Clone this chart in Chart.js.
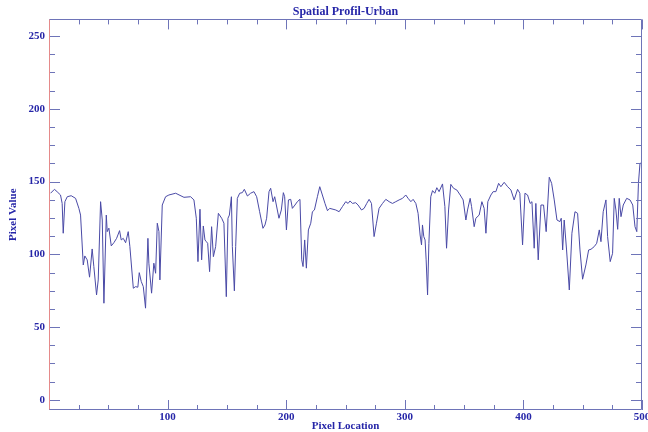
<!DOCTYPE html>
<html>
<head>
<meta charset="utf-8">
<script src="https://cdn.jsdelivr.net/npm/chart.js@4"></script>
<style>
    html, body { margin: 0; padding: 0; background: #fff; }
</style>
</head>
<body>
<canvas id="myChart" width="648" height="432"></canvas>
<script>
// profile: location along the line, value at that point
const pixelLocation = [
    1.3, 4.6, 6.9, 9.7, 11.1, 12, 13.4, 15.4, 18.7, 22.4, 25.2, 26.6, 28.9, 30.2, 32.2, 34.2,
    36.4, 37.8, 40.1, 41.5, 43.5, 44.9, 46.3, 48.3, 49.1, 50.5, 52.5, 54.7, 57, 59.5, 60.9, 62.6,
    64.6, 66.8, 68.2, 71.1, 73, 74.9, 76.1, 77.8, 79.5, 81.4, 83.4, 84.2, 86.5, 88.4, 89.9, 91.3,
    92.7, 93.5, 95.5, 98.3, 101.1, 106.8, 113.8, 119.4, 122.2, 124.2, 125.6, 127.3, 128.7, 130.1,
    131.5, 132.7, 133.8, 135.4, 137.1, 138.6, 140.5, 142.8, 145.6, 147.5, 149.5, 150.9, 152.1, 153.8,
    154.6, 156.3, 157.4, 158.8, 160.8, 163, 164.7, 167.3, 170, 172.8, 175.1, 177.6, 180.4, 182.1,
    183.5, 185.5, 186.9, 188.9, 190.3, 191.7, 193.9, 195.9, 197.6, 198.7, 200.2, 201.9, 203.8, 205.2,
    207.4, 209.4, 211.6, 213.1, 214.2, 215.6, 217, 218.7, 220.7, 222.1, 223.8, 226.3, 228.3, 230.5,
    232.7, 234.8, 236.7, 241.8, 244.6, 247.4, 250.2, 252.2, 253.8, 255.9, 258.6, 260.6, 263.5, 265.7,
    267.9, 269.9, 271.9, 274.1, 276.1, 278.3, 281.2, 284, 286.8, 289.6, 292.4, 295.2, 298.1, 300.8,
    302.8, 305.1, 307, 309.3, 311.2, 312.9, 314.1, 314.9, 316, 317.1, 318, 319.2, 320.3, 321.9,
    323.4, 325.3, 327, 328.9, 331.8, 333.8, 335.2, 336.9, 338.8, 341.1, 343.9, 346.7, 349.2, 351.5,
    352.9, 355.1, 356.3, 358.5, 359.9, 362.7, 365, 366.9, 368.4, 370, 372.6, 374.5, 376.8, 379.1,
    381, 383.8, 386.7, 389.5, 392.2, 395.1, 397, 399.3, 401.3, 403.5, 405.7, 407.2, 409.1, 410.5,
    412.5, 414.8, 417, 419.2, 421.8, 423.8, 426, 428.3, 430.8, 431.9, 433.1, 434.4, 436.4, 438.7,
    440.9, 443.5, 445.7, 447.7, 449.9, 452.7, 455, 457, 459.7, 461.8, 464, 465.4, 467.3, 469.6,
    471, 473.2, 475.2, 476.6, 478, 479.5, 480.8, 482.3, 484.2, 487.1, 489.9, 492.2, 494.1, 495.6,
    497, 498.3, 499.7, 500
];
const pixelValue = [
    142, 144.7, 143, 140.8, 135, 114.5, 136.2, 139.6, 140.3, 138.5, 131.6, 127, 92.7, 98.9, 96.2, 84.3,
    103.7, 91.6, 72.1, 82.4, 136.2, 123.6, 66.4, 127, 115.6, 118, 105.8, 108, 111, 116.3, 109.9, 111,
    108, 115.6, 105.3, 76.7, 77.8, 77.4, 87.4, 81.3, 77.8, 63, 111, 93.9, 73.3, 93.9, 87, 121.4,
    115.6, 82.4, 133.9, 139.6, 140.8, 142, 139.2, 139.6, 137.4, 124.8, 95, 131, 96.2, 119.5,
    109.9, 108.7, 107.6, 88.1, 119, 98.4, 105.3, 128.2, 124.8, 121.4, 70.9, 124.8, 127, 139.6,
    105.3, 74.9, 105.3, 138.5, 142, 142.4, 144.7, 140.1, 142, 143.1, 139.6, 129.3, 117.9, 120.2,
    124.8, 143.1, 145.4, 136.2, 139.6, 133.9, 124.8, 130.5, 142.4, 139.6, 116.8, 137.4, 137.8, 131.6,
    133.9, 136.2, 137.8, 96.2, 91.6, 109.9, 90.5, 116.8, 121.4, 129.3, 130.5, 139.6, 146.5, 140.8,
    135, 130, 131.6, 130.5, 129.3, 132.8, 136.2, 135, 136.7, 135, 135.5, 133.9, 130.5, 131.6,
    135, 137.8, 135, 112.2, 121.4, 131.6, 135, 137.8, 136.2, 135, 136.2, 137.4, 138.5, 140.8,
    138.5, 136.2, 137.8, 135, 128.2, 113.3, 106.5, 120.2, 112.2, 109.9, 96.2, 72.1, 107.6, 139.6,
    143.8, 142, 145.8, 143.1, 148.4, 132.8, 104.2, 130.5, 148.1, 145.4, 144.2, 140.8, 137.4, 123.6,
    130.5, 138.5, 132.8, 119, 124.8, 127, 136.2, 131.6, 114.5, 136.2, 140.8, 143.1, 143.1, 148.8,
    146.5, 149.5, 146.5, 144.2, 137.4, 144.7, 142, 106.5, 142, 140.8, 135, 136.2, 104.2, 135,
    96.2, 133.9, 133.9, 115.6, 153, 148.8, 137.4, 123.6, 122.5, 124.8, 103, 123.6, 103, 75.5,
    114.5, 129.3, 128.2, 103, 82.9, 92.7, 103, 103.5, 105.3, 107.6, 116.8, 108.7, 129.3, 137.4,
    112.2, 95, 100.7, 138.5, 130.5, 117.2, 138.5, 125.9, 133.9, 138.5, 137.4, 133.9, 119, 115.6,
    148.8, 162.6, 162.6, 149
];
const xTicks = [100, 200, 300, 400, 500];
const yTicks = [0, 50, 100, 150, 200, 250];
const xMinorStep = 25;
const yMinorStep = 12.5;

const textColor = '#2626a8';
const lineColor = '#4a4aa6';
const frameColor = '#6e74b8';
const serif = "'Liberation Serif', 'DejaVu Serif', serif";

// IDL-like box with inward ticks on all four sides
const idlFrame = {
    id: 'idlFrame',
    afterDraw(chart) {
        const ctx = chart.ctx
        const a = chart.chartArea
        const x = chart.scales.x
        const y = chart.scales.y
        ctx.save()
        ctx.lineWidth = 1
        ctx.strokeStyle = frameColor
        ctx.beginPath()
        for (let v = 0; v <= 500; v += xMinorStep) {
            const px = Math.round(x.getPixelForValue(v)) + 0.5
            const len = xTicks.includes(v) ? 10 : 5
            ctx.moveTo(px, a.bottom)
            ctx.lineTo(px, a.bottom - len)
            ctx.moveTo(px, a.top)
            ctx.lineTo(px, a.top + len)
        }
        for (let v = 0; v <= 250; v += yMinorStep) {
            const py = Math.round(y.getPixelForValue(v)) + 0.5
            const len = yTicks.includes(v) ? 11 : 6
            ctx.moveTo(a.left, py)
            ctx.lineTo(a.left + len, py)
            ctx.moveTo(a.right, py)
            ctx.lineTo(a.right - len, py)
        }
        ctx.stroke()
        const l = Math.round(a.left) + 0.5
        const r = Math.round(a.right) - 0.5
        const t = Math.round(a.top) + 0.5
        const b = Math.round(a.bottom) - 0.5
        ctx.beginPath()
        ctx.moveTo(l, t)
        ctx.lineTo(r, t)
        ctx.lineTo(r, b)
        ctx.lineTo(l, b)
        ctx.stroke()
        ctx.strokeStyle = '#e58a8a'
        ctx.beginPath()
        ctx.moveTo(l, t)
        ctx.lineTo(l, b)
        ctx.stroke()
        ctx.restore()
    }
};

const labelFont = { family: serif, size: 11, weight: 'bold' };

let profileChart = new Chart("myChart", {
    type: "line",
    data: {
        datasets: [{
            data: pixelLocation.map((v, i) => ({ x: v, y: pixelValue[i] })),
            borderColor: lineColor,
            borderWidth: 1,
            pointRadius: 0,
            tension: 0,
            fill: false
        }]
    },
    options: {
        responsive: false,
        animation: false,
        devicePixelRatio: 1,
        layout: { padding: { left: 0, right: 6, top: 0, bottom: 0 } },
        plugins: {
            legend: { display: false },
            tooltip: { enabled: false },
            title: {
                display: true,
                fullSize: false,
                text: "Spatial Profil-Urban",
                color: textColor,
                font: { family: serif, size: 12, weight: 'bold' },
                padding: { top: 5, bottom: 0 }
            }
        },
        scales: {
            x: {
                type: 'linear',
                min: 0,
                max: 500,
                grid: { display: false, drawTicks: false },
                border: { display: false },
                ticks: { color: textColor, font: labelFont, padding: 1, maxRotation: 0, autoSkip: false },
                afterBuildTicks: (s) => { s.ticks = xTicks.map(v => ({ value: v })) },
                afterFit: (s) => { s.height = 22; s.paddingLeft = 0; s.paddingRight = 0 },
                title: {
                    display: true, text: "Pixel Location", color: textColor,
                    font: { family: serif, size: 11, weight: 'bold', lineHeight: 1 }, padding: 0
                }
            },
            y: {
                type: 'linear',
                min: -7,
                max: 261.5,
                grid: { display: false, drawTicks: false },
                border: { display: false },
                ticks: { color: textColor, font: labelFont, padding: 4 },
                afterBuildTicks: (s) => { s.ticks = yTicks.map(v => ({ value: v })) },
                afterFit: (s) => { s.width = 49; s.paddingTop = 0; s.paddingBottom = 0 },
                title: { display: true, text: "Pixel Value", color: textColor, font: labelFont, padding: { top: 7, bottom: 0 } }
            }
        }
    },
    plugins: [idlFrame]
});
</script>
</body>
</html>
